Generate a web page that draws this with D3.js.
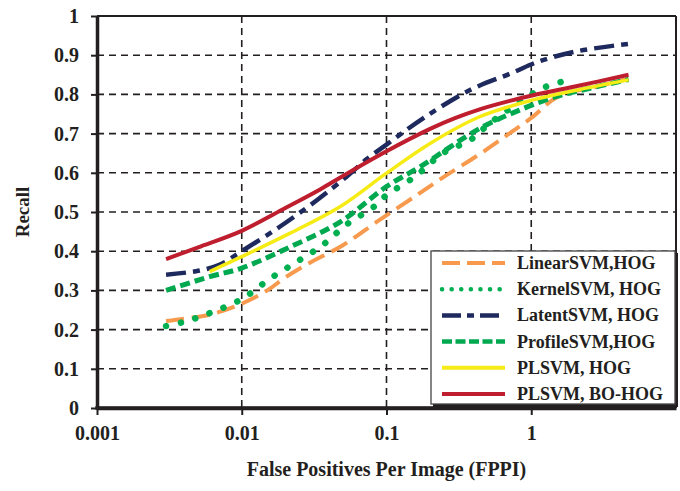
<!DOCTYPE html>
<html><head><meta charset="utf-8">
<script src="https://cdn.jsdelivr.net/npm/d3@7"></script>
<style>
body{margin:0;background:#fff}
svg{display:block}
text{font-family:"Liberation Serif","Times New Roman",serif;font-weight:bold;fill:#231f20}
</style>
</head><body><svg id="c" width="680" height="491"></svg>
<script>
// ---- data ----
const xTicks = [0.001, 0.01, 0.1, 1];
const xTickLabels = ["0.001", "0.01", "0.1", "1"];
const yTicks = [0, 0.1, 0.2, 0.3, 0.4, 0.5, 0.6, 0.7, 0.8, 0.9, 1];
const yTickLabels = ["0", "0.1", "0.2", "0.3", "0.4", "0.5", "0.6", "0.7", "0.8", "0.9", "1"];
const seriesNames = ["LinearSVM,HOG", "KernelSVM, HOG", "LatentSVM, HOG", "ProfileSVM,HOG", "PLSVM, HOG", "PLSVM, BO-HOG"];

const linearFppi   = [0.003, 0.004, 0.006, 0.01, 0.015, 0.02, 0.03, 0.05, 0.085, 0.162, 0.26, 0.43, 0.68, 1.0, 1.53, 3, 4.7];
const linearRecall = [0.222, 0.228, 0.238, 0.266, 0.30, 0.333, 0.372, 0.415, 0.474, 0.543, 0.594, 0.645, 0.696, 0.74, 0.794, 0.822, 0.84];

const kernelFppi   = [0.003, 0.004, 0.006, 0.01, 0.0157, 0.024, 0.036, 0.053, 0.083, 0.1, 0.157, 0.245, 0.38, 0.52, 1.0, 1.27, 1.62];
const kernelRecall = [0.209, 0.22, 0.242, 0.278, 0.33, 0.373, 0.415, 0.468, 0.515, 0.543, 0.59, 0.65, 0.684, 0.727, 0.80, 0.82, 0.832];

const latentFppi   = [0.003, 0.005, 0.007, 0.01, 0.0184, 0.033, 0.053, 0.073, 0.1, 0.179, 0.377, 0.75, 1.09, 2, 4.7];
const latentRecall = [0.34, 0.35, 0.365, 0.40, 0.463, 0.53, 0.59, 0.635, 0.672, 0.739, 0.811, 0.856, 0.882, 0.909, 0.929];

const profileFppi   = [0.003, 0.006, 0.01, 0.0216, 0.048, 0.1, 0.17, 0.44, 0.83, 1.5, 2.5, 4.7];
const profileRecall = [0.30, 0.335, 0.357, 0.411, 0.475, 0.565, 0.615, 0.713, 0.76, 0.795, 0.815, 0.838];

const plsvmFppi   = [0.006, 0.01, 0.0216, 0.048, 0.1, 0.2, 0.44, 1.03, 2, 4.7];
const plsvmRecall = [0.348, 0.386, 0.446, 0.514, 0.599, 0.675, 0.743, 0.786, 0.81, 0.837];

const boFppi   = [0.003, 0.005, 0.01, 0.02, 0.035, 0.05, 0.1, 0.2, 0.3, 0.44, 0.7, 1.03, 2, 4.7];
const boRecall = [0.38, 0.41, 0.452, 0.51, 0.558, 0.592, 0.655, 0.712, 0.74, 0.762, 0.783, 0.798, 0.82, 0.85];

// ---- styles ----
const styles = [
  {color:"#F79A4E", width:4,   dash:"18,8",        cap:"butt",  lw:4,   ldash:"18,7"},
  {color:"#00B050", width:6.5, dash:"0.1,15",      cap:"round", lw:4.5, ldash:"0.1,9.5"},
  {color:"#1E2A5E", width:4.5, dash:"20,7,7,7",    cap:"butt",  lw:4.5, ldash:"19,6,7,6"},
  {color:"#00A94F", width:5,   dash:"10,5",        cap:"butt",  lw:4.5, ldash:"10,3.5"},
  {color:"#F6EB14", width:3.5, dash:null,          cap:"butt",  lw:4,   ldash:null},
  {color:"#BE1E2D", width:4,   dash:null,          cap:"butt",  lw:4,   ldash:null}
];
const seriesData = [
  [linearFppi, linearRecall],
  [kernelFppi, kernelRecall],
  [latentFppi, latentRecall],
  [profileFppi, profileRecall],
  [plsvmFppi, plsvmRecall],
  [boFppi, boRecall]
];

const svg = d3.select("#c");
const L = 97, R = 676, T = 16, B = 408;
const x = d3.scaleLog().domain([0.001, 10]).range([L, R]);
const y = d3.scaleLinear().domain([0, 1]).range([B, T]);

// grid
const g = svg.append("g");
g.selectAll("line.h").data(yTicks.filter(d => d > 0 && d < 1)).enter().append("line")
  .attr("x1", L).attr("x2", R).attr("y1", d => y(d)).attr("y2", d => y(d))
  .attr("stroke", "#231f20").attr("stroke-width", 1.6).attr("stroke-dasharray", "7,5");
g.selectAll("line.v").data(xTicks.filter(d => d > 0.001)).enter().append("line")
  .attr("x1", d => x(d)).attr("x2", d => x(d)).attr("y1", T).attr("y2", B)
  .attr("stroke", "#231f20").attr("stroke-width", 1.6).attr("stroke-dasharray", "7,5");
// top & right border
svg.append("line").attr("x1", L).attr("x2", R).attr("y1", y(1)).attr("y2", y(1))
  .attr("stroke", "#231f20").attr("stroke-width", 2.2);
svg.append("line").attr("x1", x(10)).attr("x2", x(10)).attr("y1", T).attr("y2", B)
  .attr("stroke", "#231f20").attr("stroke-width", 2);

// curves
const line = d3.line().x(d => x(d[0])).y(d => y(d[1])).curve(d3.curveCatmullRom.alpha(0.5));
const order = [0, 3, 1, 2, 4, 5];
order.forEach(i => {
  const [fx, ry] = seriesData[i];
  const pts = fx.map((v, k) => [v, ry[k]]);
  const s = styles[i];
  svg.append("path").attr("d", line(pts)).attr("fill", "none")
    .attr("stroke", s.color).attr("stroke-width", s.width)
    .attr("stroke-linecap", s.cap)
    .attr("stroke-dasharray", s.dash);
});

// axes
const ay = svg.append("g").attr("transform", `translate(${L},0)`)
  .call(d3.axisLeft(y).tickValues(yTicks).tickFormat((d, i) => yTickLabels[i]).tickSize(6).tickSizeOuter(0).tickPadding(12));
const ax = svg.append("g").attr("transform", `translate(0,${B})`)
  .call(d3.axisBottom(x).tickValues(xTicks).tickFormat((d, i) => xTickLabels[i]).tickSize(7).tickSizeOuter(0).tickPadding(11));
[ay, ax].forEach(a => {
  a.select(".domain").attr("stroke", "#231f20").attr("stroke-width", 3.5);
  a.selectAll(".tick line").attr("stroke", "#231f20").attr("stroke-width", 2);
  a.selectAll("text").attr("font-size", 20).attr("fill", "#231f20")
    .attr("font-family", "'Liberation Serif','Times New Roman',serif").attr("font-weight", "bold");
});
// extend bottom axis to cover corner
svg.append("line").attr("x1", L - 1.75).attr("x2", R).attr("y1", B).attr("y2", B)
  .attr("stroke", "#231f20").attr("stroke-width", 3.5);

// axis titles
svg.append("text").attr("x", (L + R) / 2).attr("y", 476).attr("text-anchor", "middle")
  .attr("font-size", 20).text("False Positives Per Image (FPPI)");
svg.append("text").attr("transform", `translate(29,${(T + B) / 2}) rotate(-90)`)
  .attr("text-anchor", "middle").attr("font-size", 19).text("Recall");

// legend
const lg = svg.append("g");
lg.append("rect").attr("x", 433).attr("y", 253).attr("width", 245).attr("height", 154).attr("fill", "#231f20");
lg.append("rect").attr("x", 431).attr("y", 251).attr("width", 244).attr("height", 153)
  .attr("fill", "#fff").attr("stroke", "#444").attr("stroke-width", 1.3);
seriesNames.forEach((name, i) => {
  const yy = 263 + i * 26.2;
  const s = styles[i];
  lg.append("line").attr("x1", 442).attr("x2", 505).attr("y1", yy).attr("y2", yy)
    .attr("stroke", s.color).attr("stroke-width", s.lw)
    .attr("stroke-linecap", s.cap === "round" ? "round" : "butt")
    .attr("stroke-dasharray", s.ldash);
  lg.append("text").attr("x", 517).attr("y", yy + 6).attr("font-size", 18).text(name);
});
</script>
</body></html>
